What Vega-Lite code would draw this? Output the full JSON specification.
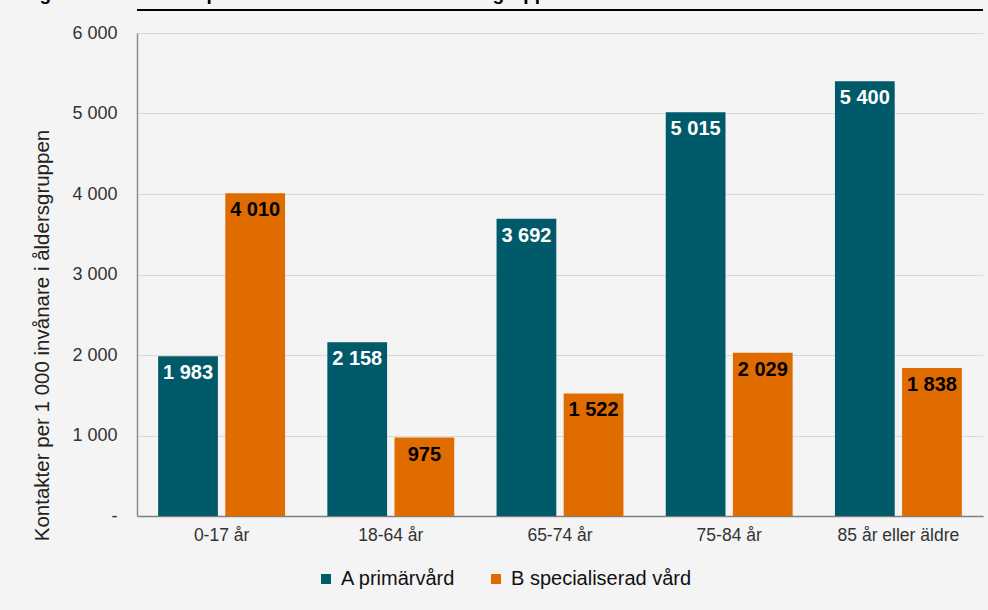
{
  "$schema": "https://vega.github.io/schema/vega-lite/v6.json",
  "width": 846,
  "height": 483,
  "autosize": {"type": "none"},
  "padding": {"left": 137, "top": 33, "right": 5, "bottom": 94},
  "background": "#f4f4f4",
  "title": {
    "text": "Diagram 3. Kontakter per 1 000 invånare i olika åldersgrupper. Avser 2022.",
    "anchor": "start",
    "frame": "group",
    "dx": -127,
    "dy": 13,
    "offset": 3,
    "baseline": "alphabetic",
    "font": "Liberation Sans",
    "fontSize": 19,
    "fontWeight": "bold",
    "color": "#000000"
  },
  "config": {
    "locale": {"number": {"decimal": ",", "thousands": "\u00a0", "grouping": [3], "currency": ["", " kr"]}},
    "view": {"stroke": null},
    "font": "Liberation Sans"
  },
  "data": {
    "values": [
      {"alder": "0-17 år", "serie": "A primärvård", "kontakter": 1983},
      {"alder": "0-17 år", "serie": "B specialiserad vård", "kontakter": 4010},
      {"alder": "18-64 år", "serie": "A primärvård", "kontakter": 2158},
      {"alder": "18-64 år", "serie": "B specialiserad vård", "kontakter": 975},
      {"alder": "65-74 år", "serie": "A primärvård", "kontakter": 3692},
      {"alder": "65-74 år", "serie": "B specialiserad vård", "kontakter": 1522},
      {"alder": "75-84 år", "serie": "A primärvård", "kontakter": 5015},
      {"alder": "75-84 år", "serie": "B specialiserad vård", "kontakter": 2029},
      {"alder": "85 år eller äldre", "serie": "A primärvård", "kontakter": 5400},
      {"alder": "85 år eller äldre", "serie": "B specialiserad vård", "kontakter": 1838}
    ]
  },
  "encoding": {
    "x": {
      "field": "alder",
      "type": "nominal",
      "sort": null,
      "scale": {"paddingInner": 0.25, "paddingOuter": 0.125},
      "axis": {
        "title": null,
        "labelAngle": 0,
        "labelFontSize": 17.5,
        "labelColor": "#333333",
        "labelPadding": 10,
        "ticks": false,
        "domainColor": "#7f7f7f",
        "domainWidth": 1.5
      }
    },
    "xOffset": {
      "field": "serie",
      "type": "nominal",
      "scale": {"paddingInner": 0.11, "paddingOuter": 0}
    },
    "y": {
      "field": "kontakter",
      "type": "quantitative",
      "scale": {"domain": [0, 6000], "nice": false},
      "axis": {
        "title": "Kontakter per 1 000 invånare i åldersgruppen",
        "titleFontSize": 20.5,
        "titleFontWeight": "normal",
        "titleColor": "#222222",
        "titleX": -89,
        "titleY": 302,
        "titleBaseline": "alphabetic",
        "values": [0, 1000, 2000, 3000, 4000, 5000, 6000],
        "format": ",d",
        "labelExpr": "datum.value === 0 ? '-\u00a0\u00a0\u00a0' : datum.label",
        "labelFontSize": 18,
        "labelColor": "#333333",
        "labelPadding": 20,
        "ticks": false,
        "domainColor": "#8c8c8c",
        "domainWidth": 1.5,
        "gridColor": "#d9d9d9",
        "gridWidth": 1.2
      }
    }
  },
  "layer": [
    {
      "mark": {"type": "bar"},
      "encoding": {
        "color": {
          "field": "serie",
          "type": "nominal",
          "scale": {
            "domain": ["A primärvård", "B specialiserad vård"],
            "range": ["#015a69", "#e06c00"]
          },
          "legend": {
            "title": null,
            "orient": "none",
            "direction": "horizontal",
            "legendX": 179,
            "legendY": 536,
            "symbolType": "square",
            "symbolSize": 100,
            "symbolStrokeWidth": 0,
            "labelFontSize": 20,
            "labelColor": "#111111",
            "labelOffset": 5,
            "labelLimit": 0,
            "columnPadding": 30,
            "padding": 0
          }
        }
      }
    },
    {
      "mark": {
        "type": "text",
        "baseline": "top",
        "dy": 7,
        "fontSize": 20,
        "fontWeight": "bold"
      },
      "encoding": {
        "text": {"field": "kontakter", "type": "quantitative", "format": ",d"},
        "color": {
          "condition": {"test": "datum.serie === 'A primärvård'", "value": "#ffffff"},
          "value": "#000000"
        }
      }
    },
    {
      "mark": {"type": "rule", "color": "#000000", "strokeWidth": 2},
      "encoding": {
        "x": null,
        "xOffset": null,
        "y": {"datum": 6286, "type": "quantitative"}
      }
    }
  ]
}
